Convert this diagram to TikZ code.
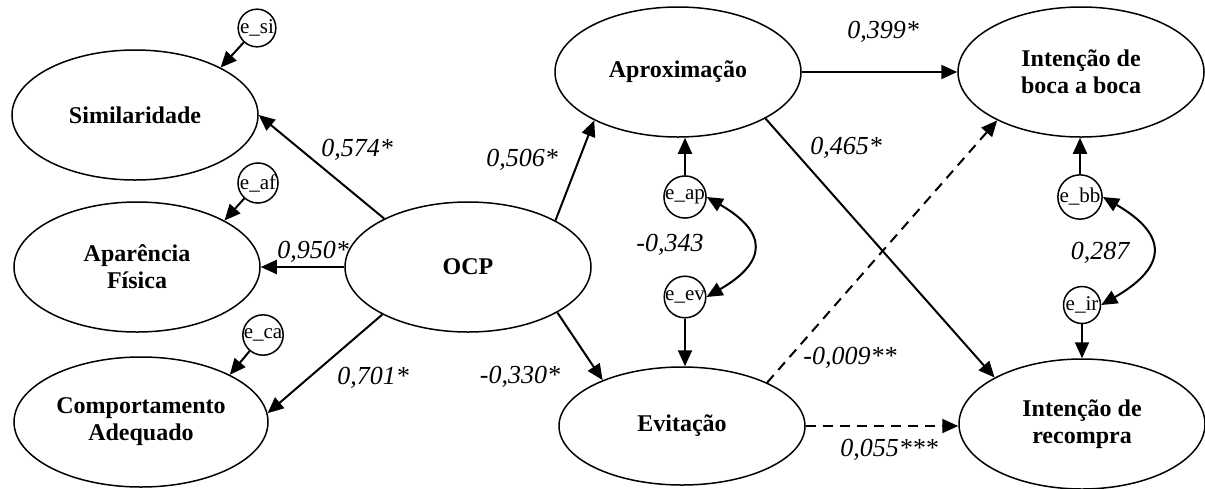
\documentclass[tikz,border=0pt]{standalone}
\usepackage{fontspec}
\setmainfont{Liberation Serif}
\usetikzlibrary{arrows.meta,shapes.geometric}

\begin{document}
\begin{tikzpicture}[x=0.5pt,y=-0.5pt,>={Triangle[length=8pt,width=7pt]},
  latent/.style={draw,ellipse,line width=0.75pt,inner sep=0pt,minimum width=123pt,minimum height=65pt,
    align=center,font=\fontsize{12}{13.5}\selectfont\bfseries},
  err/.style={draw,circle,line width=0.75pt,inner sep=0pt,minimum size=18.5pt,font=\fontsize{10.5}{11}\selectfont},
  coef/.style={font=\fontsize{13}{14}\selectfont\itshape},
  eff/.style={line width=1pt,->},
  weak/.style={dash pattern=on 5pt off 3.5pt}]
  \useasboundingbox (0,0) rectangle (1205,488);

  % latent variables
  \node[latent] (sim) at (135,115) {Similaridade};
  \node[latent] (apa) at (137,267) {Aparência\\Física};
  \node[latent,minimum width=127pt] (comp) at (141,422) {Comportamento\\Adequado};
  \node[latent] (ocp) at (468,267) {OCP};
  \node[latent] (aprox) at (678,72) {Aproximação};
  \node[latent,minimum height=59pt] (evit) at (682,426) {Evitação};
  \node[latent] (boca) at (1081,72) {Intenção de\\boca a boca};
  \node[latent] (recomp) at (1082,424) {Intenção de\\recompra};

  % error terms
  \node[err] (esi) at (257,28) {e\_si};
  \node[err] (eaf) at (258,183) {e\_af};
  \node[err] (eca) at (263,335) {e\_ca};
  \node[err] (eap) at (685,197) {e\_ap};
  \node[err] (eev) at (685,297) {e\_ev};
  \node[err] (ebb) at (1080,197) {e\_bb};
  \node[err] (eir) at (1082,305) {e\_ir};

  \draw[eff] (esi) -- (sim.29);
  \draw[eff] (eaf) -- (apa.28);
  \draw[eff] (eca) -- (comp.28);
  \draw[eff] (ocp.150) -- (sim.east);
  \draw[eff] (ocp.west) -- (apa.east);
  \draw[eff] (ocp.209) -- (comp.4);
  \draw[eff] (ocp.28) -- (aprox.210);
  \draw[eff] (ocp.333) -- (evit.150);
  \draw[eff] (eap) -- (eap |- aprox.south);
  \draw[eff] (eev) -- (eev |- evit.north);
  \draw[eff,<->] (eap.east) to[out=-30,in=30,looseness=1.8] (eev.east);
  \draw[eff] (aprox.east) -- (boca.west);
  \draw[eff] (aprox.332) -- (recomp.152);
  \draw[eff,weak] (evit.27) -- (boca.210);
  \draw[eff,weak] (evit.east) -- (evit.east -| recomp.west);
  \draw[eff] (ebb) -- (ebb |- boca.south);
  \draw[eff] (eir) -- (eir |- recomp.north);
  \draw[eff,<->] (ebb.east) to[out=-30,in=30,looseness=1.8] (eir.east);

  % coefficients
  \node[coef] (c1) at (357,150) {0,574*};
  \node[coef] (c2) at (313,252) {0,950*};
  \node[coef] (c3) at (373,378) {0,701*};
  \node[coef] (c4) at (522,160) {0,506*};
  \node[coef] (c5) at (520,377) {-0,330*};
  \node[coef] (c6) at (670,245) {-0,343};
  \node[coef] (c7) at (883,32) {0,399*};
  \node[coef] (c8) at (846,148) {0,465*};
  \node[coef] (c9) at (850,358) {-0,009**};
  \node[coef] (c10) at (889,450) {0,055***};
  \node[coef] (c11) at (1100,253) {0,287};
\end{tikzpicture}
\end{document}
